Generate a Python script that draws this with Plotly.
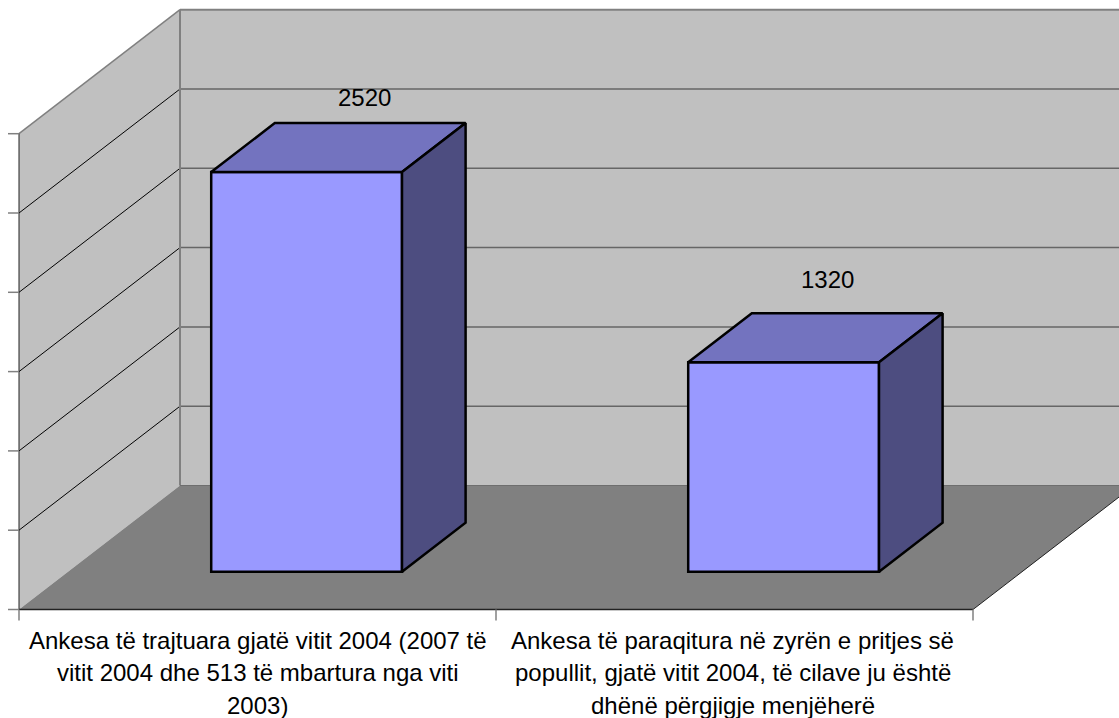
import plotly.graph_objects as go

# datos
bar_values = [2520, 1320]
bar_positions = [0.5, 1.5]
value_ticks = [0, 500, 1000, 1500, 2000, 2500, 3000]
category_ticks = [0, 1, 2]
category_lines = [
    ["Ankesa të trajtuara gjatë vitit 2004 (2007 të",
     "vitit 2004 dhe 513 të mbartura nga viti",
     "2003)"],
    ["Ankesa të paraqitura në zyrën e pritjes së",
     "popullit, gjatë vitit 2004, të cilave ju është",
     "dhënë përgjigje menjëherë"],
]

# escala de pixeles -> unidades de los ejes
W, H = 1119, 718
PX_X = 477.0      # px por categoria
PX_Y = 0.1586     # px por unidad de valor
LEFT, BOTTOM = 19.0, 609.5

# vector de profundidad de la perspectiva
DEPTH_X = 161 / PX_X
DEPTH_Y = 124 / PX_Y
BAR_D0, BAR_D1 = 0.305, 0.70
BAR_WIDTH = 0.4
VMAX = value_ticks[-1]
XMAX = category_ticks[-1]


def proj(x, v, d=0.0):
    return x + d * DEPTH_X, v + d * DEPTH_Y


def path(points):
    return "M " + " L ".join(f"{x},{y}" for x, y in points) + " Z"


def poly(points, color):
    return dict(type="path", path=path(points), fillcolor=color, line_width=0, layer="below")


def seg(p0, p1, color, width):
    return dict(type="line", x0=p0[0], y0=p0[1], x1=p1[0], y1=p1[1],
                line=dict(color=color, width=width), layer="below")


shapes = [
    # paredes y piso
    poly([proj(0, 0, 1), proj(XMAX, 0, 1), proj(XMAX, VMAX, 1), proj(0, VMAX, 1)], "#C0C0C0"),
    poly([proj(0, 0), proj(0, VMAX), proj(0, VMAX, 1), proj(0, 0, 1)], "#C0C0C0"),
    poly([proj(0, 0), proj(XMAX, 0), proj(XMAX, 0, 1), proj(0, 0, 1)], "#808080"),
]

# lineas de division
for v in value_ticks[1:-1]:
    shapes.append(seg(proj(0, v), proj(0, v, 1), "#000000", 1))
    shapes.append(seg(proj(0, v, 1), proj(XMAX, v, 1), "#666666", 1.5))

# bordes de las paredes
shapes += [
    seg(proj(0, VMAX), proj(0, VMAX, 1), "#808080", 1.5),
    seg(proj(0, VMAX, 1), proj(XMAX, VMAX, 1), "#808080", 2),
    seg(proj(0, 0, 1), proj(0, VMAX, 1), "#808080", 2),
    seg(proj(0, 0, 1), proj(XMAX, 0, 1), "#6E6E6E", 1),
    seg(proj(XMAX, 0), proj(XMAX, 0, 1), "#222222", 1),
    seg(proj(0, 0), proj(0, VMAX), "#222222", 1),
    seg(proj(0, 0), proj(XMAX, 0), "#222222", 1.5),
]

# marcas de los ejes
for v in value_ticks:
    shapes.append(seg((-11 / PX_X, v), (0, v), "#808080", 1.5))
for c in category_ticks:
    shapes.append(seg((c, 0), (c, -11 / PX_Y), "#808080", 1.5))

fig = go.Figure()

# cara frontal
fig.add_trace(go.Bar(
    x=[proj(p, 0, BAR_D0)[0] for p in bar_positions],
    y=bar_values,
    base=BAR_D0 * DEPTH_Y,
    width=BAR_WIDTH,
    marker=dict(color="#9999FF", line=dict(color="#000000", width=2.5)),
))

# caras superior y lateral
for p, val in zip(bar_positions, bar_values):
    l, r = p - BAR_WIDTH / 2, p + BAR_WIDTH / 2
    top = [proj(l, val, BAR_D0), proj(r, val, BAR_D0), proj(r, val, BAR_D1), proj(l, val, BAR_D1), proj(l, val, BAR_D0)]
    side = [proj(r, 0, BAR_D0), proj(r, val, BAR_D0), proj(r, val, BAR_D1), proj(r, 0, BAR_D1), proj(r, 0, BAR_D0)]
    for pts, color in ((top, "#7373BF"), (side, "#4D4D80")):
        fig.add_trace(go.Scatter(
            x=[q[0] for q in pts], y=[q[1] for q in pts],
            mode="lines", fill="toself", fillcolor=color,
            line=dict(color="#000000", width=2.5),
        ))

annotations = []
font = dict(family="Liberation Sans, Arial, sans-serif", size=24, color="#000000")

# etiquetas de datos
label_shift = [(-6, 26), (-20, 34)]
for p, val, (sx, sy) in zip(bar_positions, bar_values, label_shift):
    x, y = proj(p, val, BAR_D1)
    annotations.append(dict(x=x, y=y, text=str(val), showarrow=False, xanchor="center",
                            yanchor="middle", xshift=sx, yshift=sy, font=font))

# etiquetas de categorias
category_shift = [0, -2]
for i, lines in enumerate(category_lines):
    for j, line in enumerate(lines):
        annotations.append(dict(x=i + 0.5, y=0, text=line, showarrow=False, xanchor="center",
                                yanchor="middle", xshift=category_shift[i],
                                yshift=-(30.5 + 32.5 * j), font=font))

fig.update_layout(
    width=W, height=H,
    margin=dict(l=0, r=0, t=0, b=0),
    paper_bgcolor="#FFFFFF", plot_bgcolor="#FFFFFF",
    showlegend=False,
    shapes=shapes,
    annotations=annotations,
    xaxis=dict(visible=False, range=[-LEFT / PX_X, (W - LEFT) / PX_X]),
    yaxis=dict(visible=False, range=[-(H - BOTTOM) / PX_Y, BOTTOM / PX_Y]),
)

# quitar el margen del body para que el grafico quede en 0,0
fig.write_html("out.html", config={"displayModeBar": False},
               post_script="document.body.style.margin='0';document.body.style.overflow='hidden';")
